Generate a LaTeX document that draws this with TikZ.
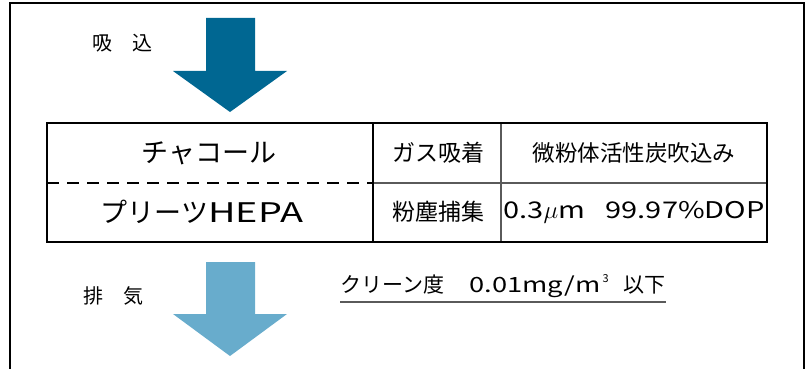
\documentclass[tikz,border=0pt]{standalone}
\usepackage{fontspec}
\setmainfont{Noto Sans CJK JP}
\newfontfamily\widelatin{Noto Sans CJK JP}[FakeStretch=1.4]
\newfontfamily\midlatin{Noto Sans CJK JP}[FakeStretch=1.26]
\newfontfamily\cleanlatin{Noto Sans CJK JP}[FakeStretch=1.3]
\definecolor{arrowdark}{RGB}{0,103,146}
\definecolor{arrowlight}{RGB}{104,172,204}
\definecolor{thingray}{RGB}{90,90,90}
\begin{document}
\begin{tikzpicture}[x=1pt,y=-1pt,
  lbl/.style={inner sep=0pt,anchor=center},
  frameline/.style={line width=1.5pt,black},
  tableline/.style={line width=2.4pt,black},
  innerline/.style={line width=1.4pt,thingray},
  dashline/.style={line width=2pt,black,dash pattern=on 12pt off 8pt}]
\useasboundingbox (0,0) rectangle (811,369);
% outer frame (open at the bottom)
\draw[frameline] (10,369) -- (10,3) -- (804,3) -- (804,369);
% arrows
\fill[arrowdark] (206,18) -- (255,18) -- (255,71) -- (287,71) -- (230,112) -- (173,71) -- (206,71) -- cycle;
\fill[arrowlight] (206,262) -- (255,262) -- (255,314) -- (287,314) -- (230,356) -- (173,314) -- (206,314) -- cycle;
% table
\draw[innerline] (373,183) -- (767,183);
\draw[innerline] (501,123) -- (501,242);
\draw[dashline] (47,183) -- (373,183);
\draw[tableline] (373,123) -- (373,242);
\draw[tableline] (47,123) rectangle (767,242);
% texts
\node[lbl] (suikomi) at (122,43) {\fontsize{20}{22}\selectfont 吸\hspace{1em}込};
\node[lbl] (haiki) at (113,296) {\fontsize{20}{22}\selectfont 排\hspace{1em}気};
\node[lbl] (charcoal) at (209,153) {\fontsize{27}{30}\selectfont チャコール};
\node[lbl] (hepa) at (202,212) {\fontsize{27}{30}\selectfont プリーツ{\widelatin HEPA}};
\node[lbl] (gas) at (438,153) {\fontsize{23}{26}\selectfont ガス吸着};
\node[lbl] (dust) at (438,212) {\fontsize{23}{26}\selectfont 粉塵捕集};
\node[lbl] (carbon) at (634,153) {\fontsize{22.5}{25}\selectfont 微粉体活性炭吹込み};
\node[lbl] (dop) at (634,212) {\fontsize{23}{26}\selectfont\midlatin 0.3$\mu$m\hspace{0.9em}99.97\%DOP};
\node[lbl,anchor=west] (clean) at (340,286) {\fontsize{21}{24}\selectfont クリーン度\hspace{1.2em}{\cleanlatin 0.01mg/m}\hspace{2pt}\raisebox{0.5em}{\fontsize{11}{12}\selectfont 3}\hspace{0.7em}以下};
\draw[line width=1.6pt,thingray] (clean.south west |- 0,302) -- (clean.south east |- 0,302);
\end{tikzpicture}
\end{document}
